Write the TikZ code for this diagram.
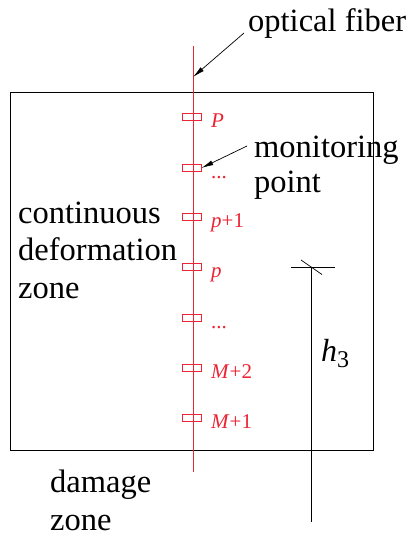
\documentclass[tikz,border=0pt]{standalone}
\usepackage{fontspec}
\setmainfont{Liberation Serif}
\usetikzlibrary{arrows.meta}
\definecolor{fiberred}{RGB}{236,36,52}

\begin{document}
\begin{tikzpicture}[x=1pt, y=-1pt, >={Latex[length=12pt,width=5pt]},
    bigtext/.style={font=\fontsize{32.5}{37.5}\selectfont, align=left,
      inner sep=0pt, anchor=base west},
    redtext/.style={font=\fontsize{21}{24}\selectfont, text=fiberred,
      inner sep=0pt, anchor=base west},
    mpoint/.style={draw=fiberred, line width=0.8pt, minimum width=19pt,
      minimum height=7pt, inner sep=0pt}]
  \useasboundingbox (0,0) rectangle (410,536);
  \draw[line width=0.9pt] (10,92) rectangle (373,450);

  % fiber and its monitoring points
  \coordinate (ftop) at (193.5,46);
  \coordinate (fbot) at (193.5,472);
  \draw[color=fiberred, line width=1.1pt] (ftop) -- (fbot);
  \foreach \y/\lab [count=\i] in {117/{\textit{P}}, 168/{...},
      217/{\textit{p}+1}, 267/{\textit{p}}, 318/{...},
      368/{\textit{M}+2}, 418/{\textit{M}+1}} {
    \node[mpoint] (mp\i) at (191.5,\y) {};
    \node[redtext] (lb\i) at (211,\y+10) {\lab};
  }

  % labels (base = last line)
  \node[bigtext] (fiber) at (248,31) {optical fiber};
  \coordinate (fibtip) at (193,77);
  \draw[->, line width=0.7pt] (244,33) -- (fibtip);
  \node[bigtext] (mon) at (254,192) {monitoring\\[-2.5pt]point};
  \draw[->, line width=0.7pt] (247,146) -- (mp2.east);
  \node[bigtext] (cont) at (18,298) {continuous\\deformation\\zone};
  \node[bigtext] (dmg) at (50,530) {damage\\[0pt]zone};

  % dimension h3
  \coordinate (dtop) at (311,267);
  \coordinate (dbot) at (311,522);
  \draw[line width=0.7pt] (dtop) -- (dbot);
  \draw[line width=0.7pt] (291,267) -- (335,267);
  \draw[line width=0.7pt] (301,260) -- (322,274.5);
  \node[inner sep=0pt, anchor=base west, font=\fontsize{32}{36}\selectfont]
    (h3) at (321,361) {\textit{h}\raisebox{-6pt}{\fontsize{24}{24}\selectfont 3}};
\end{tikzpicture}
\end{document}
